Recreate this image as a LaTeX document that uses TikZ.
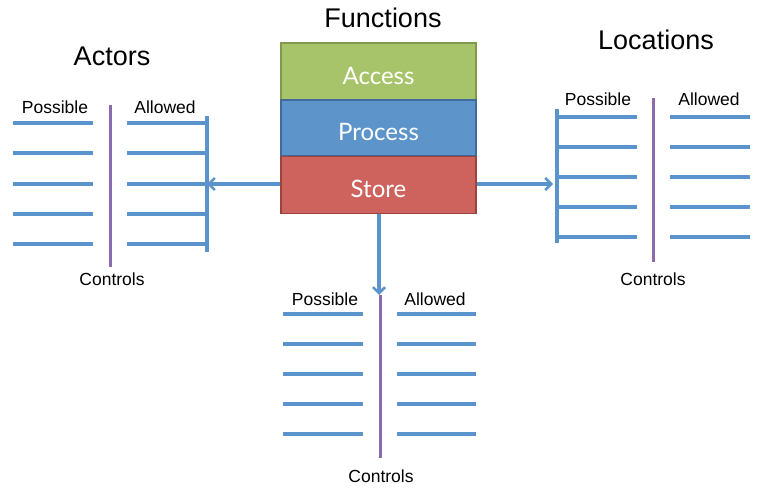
\documentclass[tikz,border=0pt]{standalone}
\usepackage{fontspec}
\setmainfont{Liberation Sans}
\newfontfamily\boxfont{Lato}
\usetikzlibrary{arrows.meta}
\definecolor{lineblue}{HTML}{5B94CD}
\definecolor{ctrlpurple}{HTML}{8A6BAE}
\definecolor{accfill}{HTML}{A8C46A}
\definecolor{accdraw}{HTML}{7E9A4A}
\definecolor{procfill}{HTML}{5D95CA}
\definecolor{procdraw}{HTML}{41699A}
\definecolor{storefill}{HTML}{CE635D}
\definecolor{storedraw}{HTML}{9A4440}
\tikzset{
  title/.style={font=\fontsize{27}{30}\selectfont, inner sep=0pt},
  lbl/.style={font=\fontsize{17.5}{20}\selectfont, inner sep=0pt},
  funcbox/.style={minimum width=195pt, inner sep=0pt, line width=1.8pt, font=\boxfont\fontsize{24}{28}\selectfont, text=white, text height=25pt, text depth=0pt},
  item/.style={draw=lineblue, line width=3.4pt},
  bar/.style={draw=lineblue, line width=3.4pt},
  ctrl/.style={draw=ctrlpurple, line width=3pt},
  flow/.style={draw=lineblue, line width=3.2pt, -{Straight Barb[length=6pt,width=12pt,line width=2.6pt]}}
}
\begin{document}
\begin{tikzpicture}[x=1pt,y=-1pt]
\useasboundingbox (0,0) rectangle (757,487);
% function boxes
\node[funcbox, fill=accfill, draw=accdraw, minimum height=57pt] (access) at (378.5,71.5) {Access};
\node[funcbox, fill=procfill, draw=procdraw, minimum height=56pt] (process) at (378.5,128) {Process};
\node[funcbox, fill=storefill, draw=storedraw, minimum height=57pt] (store) at (378.5,185) {Store};
\node[title] (ftitle) at (383,18) {Functions};

% Actors
\node[title] (atitle) at (112,56) {Actors};
\node[lbl] (apos) at (55,107) {Possible};
\node[lbl] (aall) at (165,107) {Allowed};
\node[lbl] (actl) at (112,279) {Controls};
\coordinate (actop) at (110,105);
\coordinate (acbot) at (110,267);
\draw[ctrl] (actop) -- (acbot);
\foreach \y/\n in {123/1,153/2,184/3,214/4,244/5}{
  \coordinate (apl\n) at (13,\y); \coordinate (apr\n) at (93,\y);
  \draw[item] (apl\n) -- (apr\n);
  \coordinate (aal\n) at (127,\y); \coordinate (aar\n) at (207,\y);
  \draw[item] (aal\n) -- (aar\n);
}
\coordinate (abtop) at (207,116);
\coordinate (abbot) at (207,252);
\draw[bar] (abtop) -- (abbot);
\draw[flow] (store.west |- aar3) -- (aar3);

% Locations
\node[title] (ltitle) at (656,40) {Locations};
\node[lbl] (lpos) at (598,99) {Possible};
\node[lbl] (lall) at (709,99) {Allowed};
\node[lbl] (lctl) at (653,279) {Controls};
\coordinate (lctop) at (653,98);
\coordinate (lcbot) at (653,262);
\draw[ctrl] (lctop) -- (lcbot);
\foreach \y/\n in {117/1,147/2,177/3,207/4,237/5}{
  \coordinate (lpl\n) at (557,\y); \coordinate (lpr\n) at (637,\y);
  \draw[item] (lpl\n) -- (lpr\n);
  \coordinate (lal\n) at (670,\y); \coordinate (lar\n) at (750,\y);
  \draw[item] (lal\n) -- (lar\n);
}
\coordinate (lbtop) at (557,109);
\coordinate (lbbot) at (557,243);
\draw[bar] (lbtop) -- (lbbot);
\coordinate (lin) at (553,184);
\draw[flow] (store.east |- lin) -- (lin);

% Bottom group
\node[lbl] (bpos) at (325,299) {Possible};
\node[lbl] (ball) at (435,299) {Allowed};
\node[lbl] (bctl) at (381,476) {Controls};
\coordinate (bctop) at (380,295);
\coordinate (bcbot) at (380,458);
\draw[ctrl] (bctop) -- (bcbot);
\foreach \y/\n in {314/1,344/2,374/3,404/4,434/5}{
  \coordinate (bpl\n) at (283,\y); \coordinate (bpr\n) at (363,\y);
  \draw[item] (bpl\n) -- (bpr\n);
  \coordinate (bal\n) at (397,\y); \coordinate (bar\n) at (476,\y);
  \draw[item] (bal\n) -- (bar\n);
}
\coordinate (bsrc) at (379,213.5);
\coordinate (bin) at (379,295);
\draw[flow] (bsrc) -- (bin);
\end{tikzpicture}
\end{document}
